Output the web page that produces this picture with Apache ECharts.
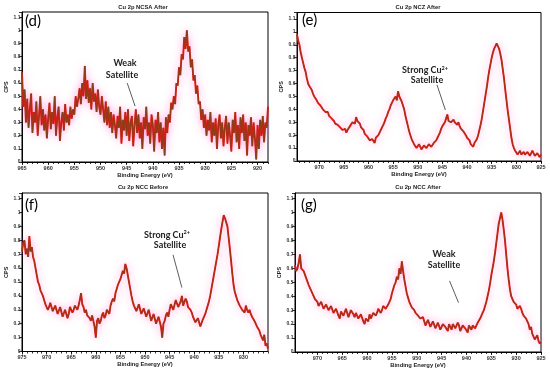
<!DOCTYPE html>
<html><head><meta charset="utf-8">
<script src="https://cdn.jsdelivr.net/npm/echarts@6/dist/echarts.min.js"></script>
<style>html,body{margin:0;padding:0;background:#fff}#c{width:550px;height:377px}</style>
</head><body><div id="c"></div><script>
// ---- data ----
const panelTitles = ['Cu 2p NCSA After', 'Cu 2p NCZ After', 'Cu 2p NCC Before', 'Cu 2p NCC After'];
const panelLetters = ['(d)', '(e)', '(f)', '(g)'];
const energyStart = [965, 974.5, 975, 974.5];   // first (highest) binding energy of each trace, eV
const energyStep = 0.25;                         // eV between samples
const xMinE = [918, 925, 925, 925];
const xMaxE = [965, 974.5, 975, 974.5];
const yMaxCps = [1.14, 1.15, 1.14, 1.14];
const xTickLabels = [
  [965, 960, 955, 950, 945, 940, 935, 930, 925, 920],
  [970, 965, 960, 955, 950, 945, 940, 935, 930, 925],
  [975, 970, 965, 960, 955, 950, 945, 940, 935, 930],
  [970, 965, 960, 955, 950, 945, 940, 935, 930, 925]
];
const yTickStep = 0.1;

const cpsD = [
  0.68,0.42,0.55,0.3, 0.48,0.26,0.4,0.52, 0.22,0.38,0.3,0.46, 0.2,0.35,0.5,0.28, 0.4,0.24,0.36,0.18,
  0.33,0.45,0.25,0.38, 0.29,0.5,0.2,0.34, 0.42,0.16,0.3,0.38, 0.24,0.44,0.3,0.36, 0.28,0.42,0.33,0.4,
  0.36,0.5,0.42,0.48, 0.56,0.44,0.6,0.5, 0.73,0.48,0.62,0.45, 0.56,0.4,0.6,0.46, 0.52,0.38,0.55,0.42,
  0.36,0.5,0.4,0.3, 0.46,0.28,0.42,0.26, 0.38,0.22,0.36,0.28, 0.18,0.35,0.26,0.42, 0.14,0.32,0.24,0.38,
  0.2,0.4,0.16,0.3, 0.35,0.12,0.28,0.4, 0.22,0.36,0.18,0.3, 0.1,0.34,0.25,0.42, 0.2,0.3,0.14,0.36,
  0.28,0.08,0.32,0.22, 0.38,0.15,0.3,0.1, 0.26,0.05,0.34,0.22, 0.36,0.3,0.45,0.4, 0.5,0.44,0.6,0.58,
  0.72,0.66,0.82,0.78, 0.95,0.86,1.0,0.84, 0.88,0.72,0.78,0.62, 0.66,0.52,0.58,0.44, 0.46,0.32,0.4,0.26,
  0.36,0.2,0.32,0.24, 0.38,0.15,0.3,0.2, 0.33,0.1,0.28,0.36, 0.18,0.3,0.12,0.26, 0.35,0.14,0.3,0.2,
  0.08,0.32,0.22,0.38, 0.15,0.28,0.1,0.34, 0.22,0.36,0.16,0.3, 0.05,0.28,0.2,0.34, 0.12,0.3,0.18,0.02,
  0.28,0.1,0.32,0.2, 0.35,0.15,0.3,0.26, 0.42];
const cpsE = [
  0.98,0.93, 0.9,0.84, 0.8,0.76, 0.72,0.69, 0.64,0.6, 0.58,0.57, 0.55,0.52, 0.5,0.51, 0.47,0.45, 0.44,0.43,
  0.42,0.4, 0.4,0.38, 0.37,0.38, 0.35,0.34, 0.33,0.34, 0.31,0.29, 0.3,0.28, 0.27,0.26, 0.26,0.24, 0.24,0.25,
  0.22,0.24, 0.25,0.27, 0.28,0.3, 0.31,0.29, 0.34,0.31, 0.3,0.29, 0.26,0.25, 0.24,0.21, 0.2,0.19, 0.18,0.16,
  0.15,0.17, 0.16,0.14, 0.18,0.17, 0.2,0.22, 0.24,0.25, 0.28,0.3, 0.33,0.35, 0.38,0.4, 0.43,0.45, 0.47,0.48,
  0.5,0.47, 0.54,0.5, 0.48,0.46, 0.43,0.4, 0.35,0.31, 0.27,0.23, 0.2,0.17, 0.15,0.13, 0.12,0.1, 0.11,0.13,
  0.13,0.09, 0.1,0.12, 0.12,0.1, 0.11,0.13, 0.14,0.11, 0.12,0.14, 0.15,0.16, 0.18,0.2, 0.22,0.25, 0.27,0.28,
  0.3,0.33, 0.36,0.31, 0.32,0.3, 0.31,0.32, 0.3,0.29, 0.28,0.3, 0.27,0.25, 0.24,0.23, 0.22,0.2, 0.18,0.17,
  0.16,0.13, 0.12,0.11, 0.14,0.15, 0.17,0.2, 0.24,0.28, 0.33,0.39, 0.45,0.51, 0.57,0.64, 0.7,0.75, 0.8,0.84,
  0.87,0.89, 0.91,0.89, 0.87,0.83, 0.78,0.71, 0.64,0.55, 0.47,0.39, 0.32,0.25, 0.18,0.13, 0.1,0.08, 0.07,0.05,
  0.06,0.08, 0.05,0.04, 0.07,0.05, 0.04,0.07, 0.06,0.04, 0.05,0.08, 0.07,0.04, 0.04,0.06, 0.06,0.03, 0.05];
const cpsF = [
  0.72,0.78, 0.8,0.7, 0.74,0.68, 0.83,0.72, 0.75,0.68, 0.65,0.6, 0.55,0.5, 0.48,0.44, 0.42,0.4, 0.37,0.34,
  0.35,0.3, 0.32,0.35, 0.36,0.29, 0.3,0.33, 0.34,0.27, 0.28,0.32, 0.33,0.25, 0.26,0.3, 0.31,0.24, 0.27,0.32,
  0.32,0.28, 0.3,0.33, 0.34,0.3, 0.33,0.37, 0.42,0.34, 0.32,0.28, 0.3,0.26, 0.27,0.24, 0.22,0.26, 0.25,0.18,
  0.1,0.22, 0.24,0.2, 0.22,0.26, 0.28,0.24, 0.26,0.3, 0.3,0.27, 0.33,0.36, 0.38,0.36, 0.42,0.45, 0.48,0.5,
  0.52,0.55, 0.58,0.56, 0.63,0.6, 0.55,0.5, 0.45,0.4, 0.36,0.33, 0.32,0.29, 0.3,0.34, 0.33,0.27, 0.28,0.31,
  0.3,0.25, 0.26,0.3, 0.29,0.22, 0.22,0.27, 0.26,0.2, 0.2,0.25, 0.24,0.18, 0.1,0.2, 0.22,0.26, 0.28,0.25,
  0.3,0.34, 0.35,0.3, 0.31,0.37, 0.38,0.32, 0.33,0.36, 0.4,0.33, 0.34,0.38, 0.36,0.32, 0.33,0.3, 0.28,0.25,
  0.24,0.21, 0.2,0.24, 0.24,0.18, 0.19,0.23, 0.23,0.27, 0.3,0.33, 0.36,0.4, 0.45,0.5, 0.55,0.6, 0.65,0.7,
  0.76,0.82, 0.88,0.93, 0.98,0.96, 0.95,0.9, 0.82,0.74, 0.65,0.56, 0.48,0.43, 0.4,0.37, 0.35,0.33, 0.32,0.3,
  0.3,0.28, 0.33,0.3, 0.28,0.3, 0.27,0.25, 0.25,0.22, 0.2,0.18, 0.17,0.15, 0.12,0.1, 0.08,0.12, 0.04,0.06, 0.02];
const cpsG = [
  0.62,0.58, 0.6,0.64, 0.7,0.6, 0.6,0.58, 0.57,0.53, 0.52,0.48, 0.47,0.44, 0.42,0.4, 0.38,0.37, 0.36,0.33,
  0.34,0.36, 0.35,0.31, 0.31,0.34, 0.33,0.3, 0.3,0.33, 0.32,0.28, 0.28,0.31, 0.3,0.26, 0.24,0.29, 0.29,0.26,
  0.27,0.31, 0.3,0.25, 0.26,0.3, 0.29,0.27, 0.25,0.28, 0.28,0.24, 0.24,0.27, 0.26,0.22, 0.2,0.24, 0.25,0.22,
  0.27,0.24, 0.24,0.28, 0.29,0.26, 0.28,0.31, 0.3,0.28, 0.3,0.33, 0.33,0.31, 0.32,0.34, 0.36,0.38, 0.42,0.45,
  0.48,0.5, 0.54,0.52, 0.6,0.56, 0.65,0.58, 0.52,0.47, 0.42,0.39, 0.36,0.34, 0.32,0.31, 0.3,0.28, 0.27,0.26,
  0.25,0.24, 0.23,0.25, 0.22,0.19, 0.2,0.23, 0.22,0.18, 0.19,0.22, 0.21,0.17, 0.18,0.21, 0.2,0.16, 0.17,0.2,
  0.21,0.18, 0.19,0.15, 0.2,0.18, 0.16,0.2, 0.2,0.17, 0.18,0.21, 0.19,0.15, 0.15,0.19, 0.2,0.17, 0.17,0.14,
  0.19,0.2, 0.16,0.19, 0.2,0.17, 0.18,0.21, 0.22,0.24, 0.25,0.28, 0.3,0.33, 0.36,0.4, 0.44,0.49, 0.55,0.6,
  0.65,0.71, 0.78,0.85, 0.92,0.96, 1.0,0.95, 0.88,0.8, 0.7,0.6, 0.52,0.45, 0.4,0.38, 0.36,0.35, 0.34,0.31,
  0.3,0.33, 0.31,0.28, 0.26,0.25, 0.24,0.22, 0.2,0.16, 0.18,0.13, 0.12,0.09, 0.1,0.12, 0.08,0.06, 0.07];
const traces = [cpsD, cpsE, cpsF, cpsG];

// annotations: text lines and arrow (data coords: [eV, CPS])
const noteLines = [['Weak', 'Satellite'], ['Strong Cu{s|2+}', 'Satellite'], ['Strong Cu{s|2+}', 'Satellite'], ['Weak', 'Satellite']];
const arrowFrom = [[944.9, 0.60], [946.1, 0.59], [944.3, 0.695], [943.4, 0.51]];
const arrowTo = [[943.4, 0.425], [944.4, 0.395], [942.5, 0.46], [941.6, 0.354]];

// ---- layout ----
const grids = [
  {left: 22, top: 12, width: 246, height: 150},
  {left: 297, top: 12.5, width: 244, height: 148.5},
  {left: 22, top: 193, width: 246, height: 158.5},
  {left: 295, top: 193, width: 246, height: 159}
];
const titlePos = [[143, 7], [418, 7], [143, 187], [418, 187]];
const letterPos = [[25, 21], [302, 20], [25, 205], [301, 205]];
const notePos = [[[125, 63], [122, 75]], [[425, 70], [427, 80]], [[167, 234.7], [170, 245.3]], [[444, 253.7], [444, 264.7]]];

const axisFont = 'Liberation Sans';
const yLabelFmt = v => {
  const k = v / yTickStep;
  if (Math.abs(k - Math.round(k)) > 1e-6) return '';
  return String(Math.round(k) / 10);
};

const xAxes = [], yAxes = [], series = [], graphics = [];
for (let i = 0; i < 4; i++) {
  const minor = [];
  for (let e = Math.ceil(xMinE[i]); e <= xMaxE[i]; e++) minor.push(e);
  xAxes.push({
    type: 'value', gridIndex: i, inverse: true, min: xMinE[i], max: xMaxE[i], position: 'bottom',
    axisLine: {onZero: false, lineStyle: {color: '#000', width: 1}},
    axisTick: {length: 3, customValues: xTickLabels[i], lineStyle: {color: '#000', width: 0.8}},
    splitLine: {show: false},
    axisLabel: {fontSize: 5.5, fontWeight: 'bold', color: '#333', margin: 3, fontFamily: axisFont, customValues: xTickLabels[i]},
    name: 'Binding Energy (eV)', nameLocation: 'middle', nameGap: 9,
    nameTextStyle: {fontSize: 5.8, fontWeight: 'bold', color: '#222', fontFamily: axisFont}
  });
  xAxes.push({
    type: 'value', gridIndex: i, inverse: true, min: xMinE[i], max: xMaxE[i], position: 'bottom', offset: 0,
    axisLine: {show: false},
    axisTick: {show: true, length: 2, customValues: minor, lineStyle: {color: '#000', width: 0.8}},
    axisLabel: {show: false}, splitLine: {show: false}
  });
  yAxes.push({
    type: 'value', gridIndex: i, min: 0, max: yMaxCps[i], interval: yTickStep,
    axisLine: {show: true, lineStyle: {color: '#000', width: 1}},
    axisTick: {show: true, length: 3, lineStyle: {color: '#000', width: 0.8}},
    splitLine: {show: false},
    axisLabel: {fontSize: 5, fontWeight: 'bold', color: '#333', margin: 1.5, fontFamily: axisFont, formatter: yLabelFmt},
    name: 'CPS', nameLocation: 'middle', nameGap: 12, nameRotate: 90,
    nameTextStyle: {fontSize: 5.5, fontWeight: 'bold', color: '#222', fontFamily: axisFont}
  });
  const pts = traces[i].map((v, k) => [energyStart[i] - k * energyStep, v]);
  series.push({
    type: 'line', xAxisIndex: 2 * i, yAxisIndex: i, data: pts, symbol: 'none', animation: false,
    lineStyle: {color: '#f01414', width: 1.9, shadowColor: 'rgba(255,100,200,0.6)', shadowBlur: 8}
  });
  series.push({
    type: 'line', xAxisIndex: 2 * i, yAxisIndex: i, data: pts, symbol: 'none', animation: false,
    lineStyle: {color: '#6e4a1a', width: 0.9, opacity: 0.85},
    markLine: {
      silent: true, animation: false, symbol: ['none', 'arrow'], symbolSize: [0, 5],
      lineStyle: {color: '#333', width: 0.8, type: 'solid', opacity: 1}, label: {show: false},
      data: [[{coord: arrowFrom[i]}, {coord: arrowTo[i]}]]
    }
  });
  graphics.push({type: 'text', style: {x: titlePos[i][0], y: titlePos[i][1], text: panelTitles[i], align: 'center', verticalAlign: 'middle',
    font: 'bold 5.8px "Liberation Sans"', fill: '#222'}});
  graphics.push({type: 'text', style: {x: letterPos[i][0], y: letterPos[i][1], text: panelLetters[i], align: 'left', verticalAlign: 'middle',
    font: '15px Lato', fill: '#000'}});
  for (let j = 0; j < 2; j++) {
    graphics.push({type: 'text', style: {x: notePos[i][j][0], y: notePos[i][j][1], text: noteLines[i][j], align: 'center', verticalAlign: 'middle',
      font: 'bold 9px Lato', fill: '#222',
      rich: {s: {fontSize: 5.5, fontWeight: 'bold', fontFamily: 'Lato', fill: '#222', verticalAlign: 'top', padding: [0, 0, 4, 0]}}}});
  }
}

const chart = echarts.init(document.getElementById('c'), null, {renderer: 'canvas'});
chart.setOption({
  animation: false,
  backgroundColor: '#fff',
  grid: grids.map(g => Object.assign({show: true, borderColor: '#000', borderWidth: 1, backgroundColor: 'transparent'}, g)),
  xAxis: xAxes, yAxis: yAxes, series: series,
  graphic: graphics
});
</script></body></html>
